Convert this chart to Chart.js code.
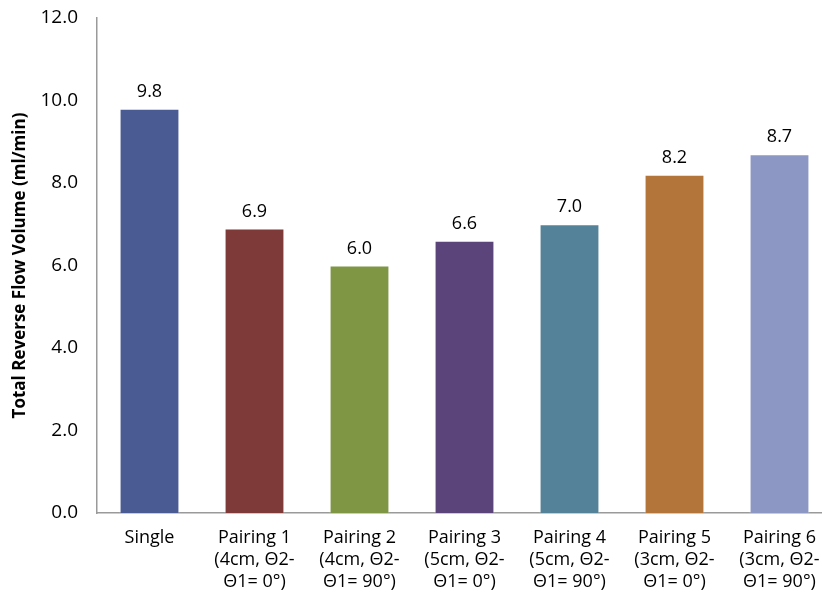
<!DOCTYPE html>
<html>
<head>
<meta charset="utf-8">
<script src="https://cdn.jsdelivr.net/npm/chart.js@4.4.1/dist/chart.umd.min.js"></script>
<style>
  html, body { margin: 0; padding: 0; background: #fff; overflow: hidden; }
  #wrap { width: 822px; height: 594px; overflow: hidden; }
</style>
</head>
<body>
<div id="wrap"><canvas id="flowChart" width="836" height="594"></canvas></div>
<script>
// Reverse flow volume per configuration
const categories = [
  ['Single'],
  ['Pairing 1', '(4cm, Θ2-', 'Θ1= 0°)'],
  ['Pairing 2', '(4cm, Θ2-', 'Θ1= 90°)'],
  ['Pairing 3', '(5cm, Θ2-', 'Θ1= 0°)'],
  ['Pairing 4', '(5cm, Θ2-', 'Θ1= 90°)'],
  ['Pairing 5', '(3cm, Θ2-', 'Θ1= 0°)'],
  ['Pairing 6', '(3cm, Θ2-', 'Θ1= 90°)']
];
const flowVolume = [9.8, 6.9, 6.0, 6.6, 7.0, 8.2, 8.7];
const barColors = ['#4a5a93', '#7e3939', '#7f9645', '#5b4479', '#548299', '#b37539', '#8c97c4'];
const yTicks = [0, 2, 4, 6, 8, 10, 12];

const FONT = '"Open Sans", "Noto Sans", sans-serif';

// value labels above each bar
const valueLabels = {
  id: 'valueLabels',
  afterDatasetsDraw(chart) {
    const ctx = chart.ctx;
    const meta = chart.getDatasetMeta(0);
    ctx.save();
    ctx.font = '18px ' + FONT;
    ctx.fillStyle = '#000';
    ctx.textAlign = 'center';
    ctx.textBaseline = 'bottom';
    meta.data.forEach((bar, i) => {
      ctx.fillText(flowVolume[i].toFixed(1), bar.x, bar.y - 8);
    });
    ctx.restore();
  }
};

new Chart(document.getElementById('flowChart').getContext('2d'), {
  type: 'bar',
  data: {
    labels: categories,
    datasets: [{
      data: flowVolume,
      backgroundColor: barColors,
      borderColor: 'rgba(255,255,255,0.35)',
      borderWidth: 1,
      categoryPercentage: 1,
      barPercentage: 0.57
    }]
  },
  options: {
    responsive: false,
    animation: false,
    layout: { padding: { top: 0, right: 4, left: 0, bottom: 0 } },
    plugins: {
      legend: { display: false },
      tooltip: { enabled: false }
    },
    scales: {
      x: {
        grid: { display: false, drawTicks: false },
        border: { color: '#9a9a9a', width: 1.5 },
        ticks: {
          color: '#000',
          font: { family: FONT, size: 18, lineHeight: 1.22 },
          padding: 14,
          maxRotation: 0,
          autoSkip: false
        },
        afterFit(axis) { axis.height = 81; }
      },
      y: {
        min: 0,
        max: 12,
        afterBuildTicks(axis) { axis.ticks = yTicks.map(v => ({ value: v })); },
        grid: { display: false, drawTicks: false },
        border: { color: '#9a9a9a', width: 1.5 },
        ticks: {
          color: '#000',
          font: { family: FONT, size: 19 },
          padding: 19,
          callback: v => v.toFixed(1)
        },
        title: {
          display: true,
          text: 'Total Reverse Flow Volume (ml/min)',
          color: '#000',
          font: { family: FONT, size: 17, weight: 'bold' },
          padding: { top: 10, bottom: 0 }
        },
        afterFit(axis) {
          axis.width = 97;
          axis.paddingTop = 18;
          axis.paddingBottom = 0;
        }
      }
    }
  },
  plugins: [valueLabels]
});
</script>
</body>
</html>
